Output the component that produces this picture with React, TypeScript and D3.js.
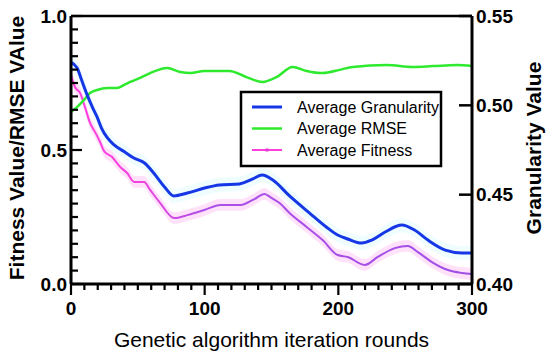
import * as d3 from 'd3';
import React, { useEffect, useRef } from 'react';

// Average Granularity (right axis)
const granRounds = [0, 4.5, 8, 12, 16, 19.5, 23, 27, 32, 40, 47, 55, 62, 70, 77, 87, 100, 111, 126, 136, 143, 151, 163.5, 178.5, 191, 199.5, 207, 217.5, 225, 235, 247.5, 257, 267, 280, 292.5, 300];
const granValues = [0.524, 0.521, 0.514, 0.506, 0.499, 0.4935, 0.487, 0.482, 0.478, 0.474, 0.4705, 0.4677, 0.462, 0.4543, 0.4493, 0.4509, 0.4537, 0.4554, 0.456, 0.4588, 0.461, 0.4582, 0.4493, 0.4397, 0.4319, 0.4274, 0.4252, 0.4229, 0.4246, 0.4291, 0.433, 0.4302, 0.4246, 0.419, 0.4174, 0.4174];

// Average RMSE (left axis)
const rmseRounds = [0, 4.5, 9.75, 14.25, 19.5, 27, 34.5, 39.75, 44.25, 51.75, 59.25, 72, 81.75, 89.25, 99.75, 118.5, 131.25, 143.25, 153.75, 165.75, 176.25, 188.25, 201, 210.75, 236.25, 255.75, 270.75, 288.75, 300];
const rmseValues = [0.642, 0.66, 0.687, 0.713, 0.724, 0.731, 0.731, 0.743, 0.754, 0.769, 0.787, 0.806, 0.791, 0.787, 0.795, 0.795, 0.772, 0.754, 0.772, 0.81, 0.795, 0.787, 0.799, 0.81, 0.817, 0.81, 0.813, 0.817, 0.813];

// Average Fitness (left axis)
const fitRounds = [0, 3, 6.75, 10.5, 14.25, 18, 21.75, 24.75, 30.75, 36.75, 42, 47.25, 54.75, 59.25, 66.75, 77.25, 87, 99.75, 111.75, 126.75, 137.25, 144.75, 150, 156, 163.5, 176.25, 188.25, 199.5, 207, 219.75, 229.5, 242.25, 252, 259.5, 270, 282, 292.5, 300];
const fitValues = [0.78, 0.735, 0.713, 0.66, 0.601, 0.567, 0.53, 0.496, 0.474, 0.437, 0.414, 0.381, 0.381, 0.351, 0.302, 0.246, 0.257, 0.276, 0.295, 0.295, 0.317, 0.336, 0.321, 0.302, 0.265, 0.213, 0.164, 0.108, 0.101, 0.071, 0.101, 0.134, 0.142, 0.119, 0.082, 0.052, 0.041, 0.037];

const xTicks = [0, 100, 200, 300];
const leftTicks = [0, 0.5, 1.0];
const rightTicks = [0.4, 0.45, 0.5, 0.55];
const legendNames = ['Average Granularity', 'Average RMSE', 'Average Fitness'];

const FONT = 'Liberation Sans, Arial, Helvetica, sans-serif';

const Chart = () => {
  const ref = useRef(null);

  useEffect(() => {
    const svg = d3.select(ref.current);
    svg.selectAll('*').remove();

    const left = 71, right = 472, top = 16, bottom = 284;
    const x = d3.scaleLinear().domain([0, 300]).range([left, right]);
    const yL = d3.scaleLinear().domain([0, 1]).range([bottom, top]);
    const yR = d3.scaleLinear().domain([0.4, 0.55]).range([bottom, top]);

    const gran = granRounds.map((r, i) => ({ r, v: granValues[i] }));
    const rmse = rmseRounds.map((r, i) => ({ r, v: rmseValues[i] }));
    const fit = fitRounds.map((r, i) => ({ r, v: fitValues[i] }));

    // gradient for the fitness line (pink -> violet)
    const defs = svg.append('defs');
    const grad = defs.append('linearGradient')
      .attr('id', 'fitGrad')
      .attr('gradientUnits', 'userSpaceOnUse')
      .attr('x1', x(0)).attr('x2', x(300)).attr('y1', 0).attr('y2', 0);
    grad.append('stop').attr('offset', 0).attr('stop-color', '#ff3fdc');
    grad.append('stop').attr('offset', 0.18).attr('stop-color', '#f043e0');
    grad.append('stop').attr('offset', 0.33).attr('stop-color', '#ad4fe8');
    grad.append('stop').attr('offset', 1).attr('stop-color', '#a04ee6');

    // error bands
    svg.append('path')
      .datum(gran)
      .attr('fill', '#effdff')
      .attr('d', d3.area().x((d) => x(d.r)).y0((d) => yR(d.v - 0.004)).y1((d) => yR(d.v + 0.004)).curve(d3.curveMonotoneX));
    svg.append('path')
      .datum(fit)
      .attr('fill', '#ffe1fa')
      .attr('d', d3.area().x((d) => x(d.r)).y0((d) => yL(d.v - 0.022)).y1((d) => yL(d.v + 0.022)).curve(d3.curveMonotoneX));

    // lines
    svg.append('path')
      .datum(fit)
      .attr('fill', 'none')
      .attr('stroke', 'url(#fitGrad)')
      .attr('stroke-width', 2)
      .attr('d', d3.line().x((d) => x(d.r)).y((d) => yL(d.v)).curve(d3.curveMonotoneX));
    svg.append('path')
      .datum(rmse)
      .attr('fill', 'none')
      .attr('stroke', '#2eea2e')
      .attr('stroke-width', 2.5)
      .attr('d', d3.line().x((d) => x(d.r)).y((d) => yL(d.v)).curve(d3.curveMonotoneX));
    svg.append('path')
      .datum(gran)
      .attr('fill', 'none')
      .attr('stroke', '#1537e6')
      .attr('stroke-width', 3)
      .attr('d', d3.line().x((d) => x(d.r)).y((d) => yR(d.v)).curve(d3.curveMonotoneX));

    // frame
    const frame = svg.append('g').attr('stroke', '#000').attr('stroke-width', 2.5);
    frame.append('line').attr('x1', left).attr('x2', right).attr('y1', top).attr('y2', top);
    frame.append('line').attr('x1', left).attr('x2', right).attr('y1', bottom).attr('y2', bottom).attr('stroke-width', 3);
    frame.append('line').attr('x1', left).attr('x2', left).attr('y1', top).attr('y2', bottom).attr('stroke-width', 3);
    frame.append('line').attr('x1', right).attr('x2', right).attr('y1', top).attr('y2', bottom).attr('stroke-width', 3);

    // x ticks
    const xMinor = d3.range(0, 301, 10);
    frame.selectAll('.xt').data(xMinor).join('line')
      .attr('x1', (d) => x(d)).attr('x2', (d) => x(d))
      .attr('y1', bottom).attr('y2', (d) => bottom + (d % 100 === 0 ? 11 : 6))
      .attr('stroke-width', 2.2);
    // left ticks (inward)
    const yMinor = d3.range(0, 21).map((i) => i * 0.05);
    frame.selectAll('.yt').data(yMinor).join('line')
      .attr('x1', left).attr('x2', (_, i) => left + (i % 10 === 0 ? 11 : 7))
      .attr('y1', (d) => yL(d)).attr('y2', (d) => yL(d))
      .attr('stroke-width', 2.2);
    // right ticks (inward)
    frame.selectAll('.rt').data(rightTicks).join('line')
      .attr('x1', right - 13).attr('x2', right)
      .attr('y1', (d) => yR(d)).attr('y2', (d) => yR(d));

    const labels = svg.append('g').attr('font-family', FONT).attr('fill', '#000');
    labels.selectAll('.xl').data(xTicks).join('text')
      .attr('x', (d) => x(d)).attr('y', 315)
      .attr('text-anchor', 'middle')
      .attr('font-size', 19).attr('font-weight', 'bold')
      .text((d) => d3.format('d')(d));
    labels.selectAll('.ll').data(leftTicks).join('text')
      .attr('x', 67).attr('y', (d) => yL(d))
      .attr('text-anchor', 'end').attr('dominant-baseline', 'central')
      .attr('font-size', 19).attr('font-weight', 'bold')
      .text((d) => d3.format('.1f')(d));
    labels.selectAll('.rl').data(rightTicks).join('text')
      .attr('x', 476).attr('y', (d) => yR(d))
      .attr('dominant-baseline', 'central')
      .attr('font-size', 19).attr('font-weight', 'bold')
      .text((d) => d3.format('.2f')(d));

    // axis titles
    labels.append('text')
      .attr('x', (left + right) / 2).attr('y', 346.5)
      .attr('text-anchor', 'middle').attr('font-size', 21)
      .text('Genetic algorithm iteration rounds');
    labels.append('text')
      .attr('transform', 'translate(24, 148) rotate(-90)')
      .attr('text-anchor', 'middle').attr('font-size', 21).attr('font-weight', 'bold')
      .text('Fitness Value/RMSE VAlue');
    labels.append('text')
      .attr('transform', 'translate(541, 148) rotate(-90)')
      .attr('text-anchor', 'middle').attr('font-size', 21).attr('font-weight', 'bold')
      .text('Granularity Value');

    // legend
    const legend = svg.append('g');
    legend.append('rect')
      .attr('x', 241).attr('y', 92).attr('width', 200).attr('height', 74)
      .attr('fill', '#fff').attr('stroke', '#000').attr('stroke-width', 2.5);
    const colors = ['#1537e6', '#2eea2e', '#ff3fdc'];
    const widths = [3, 2.5, 2];
    const rows = legend.selectAll('.row').data(legendNames).join('g')
      .attr('transform', (_, i) => `translate(0, ${107 + i * 21.5})`);
    rows.append('line')
      .attr('x1', 252).attr('x2', 282).attr('y1', 0).attr('y2', 0)
      .attr('stroke', (_, i) => colors[i]).attr('stroke-width', (_, i) => widths[i]);
    rows.filter((_, i) => i === 2).append('rect')
      .attr('x', 265.5).attr('y', -1.5).attr('width', 3).attr('height', 3).attr('fill', '#e03ad0');
    rows.append('text')
      .attr('x', 297).attr('y', 0).attr('dominant-baseline', 'central')
      .attr('font-family', FONT).attr('font-size', 16)
      .text((d) => d);
  }, []);

  return <svg ref={ref} width={550} height={355} style={{ position: 'absolute', left: 0, top: 0, background: '#fff' }} />;
};

export default function App() {
  return <Chart />;
}
